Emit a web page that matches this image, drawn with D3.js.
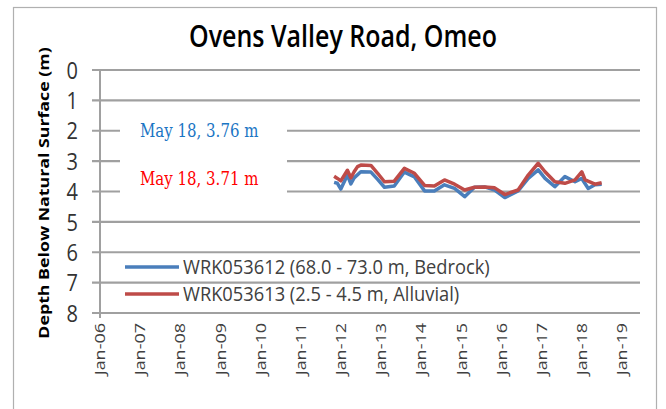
<!DOCTYPE html>
<html>
<head>
<meta charset="utf-8">
<script src="https://cdn.jsdelivr.net/npm/d3@7"></script>
<style>
  body { margin: 0; background: #fff; }
</style>
</head>
<body>
<svg id="chart"></svg>
<script>
// readings (depth below natural surface, m)
var blueDates = ['2011-11','2011-12','2012-01','2012-03','2012-04','2012-05','2012-07','2012-10','2012-12',
  '2013-02','2013-05','2013-08','2013-11','2014-02','2014-05','2014-08','2014-11','2015-02','2015-05',
  '2015-08','2015-11','2016-02','2016-06','2016-09','2016-12','2017-02','2017-05','2017-08','2017-11',
  '2018-01','2018-03','2018-05','2018-07'];
var blueValues = [3.70,3.73,3.92,3.46,3.75,3.55,3.35,3.36,3.60,
  3.86,3.82,3.36,3.52,3.98,3.98,3.78,3.90,4.17,3.86,
  3.85,3.95,4.20,3.98,3.57,3.29,3.57,3.84,3.51,3.68,
  3.57,3.90,3.78,3.76];

var redDates = ['2011-11','2011-12','2012-01','2012-03','2012-04','2012-05','2012-06','2012-07','2012-10','2012-12',
  '2013-02','2013-05','2013-08','2013-11','2014-02','2014-05','2014-08','2014-11','2015-02','2015-05',
  '2015-08','2015-11','2016-02','2016-06','2016-09','2016-12','2017-02','2017-05','2017-08','2017-11',
  '2018-01','2018-02','2018-05','2018-07'];
var redValues = [3.50,3.57,3.65,3.30,3.55,3.35,3.18,3.13,3.14,3.40,
  3.68,3.66,3.24,3.40,3.80,3.82,3.62,3.76,3.95,3.86,
  3.85,3.88,4.10,3.95,3.46,3.07,3.35,3.68,3.73,3.62,
  3.35,3.62,3.76,3.71];

var seriesNames = ['WRK053612 (68.0 - 73.0 m, Bedrock)', 'WRK053613 (2.5 - 4.5 m, Alluvial)'];
var seriesColors = ['#4a7ebb', '#be4b48'];
var yTicks = [0, 1, 2, 3, 4, 5, 6, 7, 8];
var xTickYears = d3.range(2006, 2020);
var notes = ['May 18, 3.76 m', 'May 18, 3.71 m'];
var noteColors = ['#1a75c4', '#ff0000'];

var width = 666, height = 409;
var stretch = 1.2;   // the source picture is a little taller than wide, text looks stretched
var parse = d3.timeParse('%Y-%m');

// place a text at (px,py), stretched vertically, optionally turned
function place(px, py, rot, s) {
    return `translate(${px},${py}) scale(1,${s || stretch})` + (rot ? ` rotate(${rot})` : '');
}

var svg = d3.select('#chart')
    .attr('width', width)
    .attr('height', height)
    .style('font-family', '"Open Sans", sans-serif');

// outer frame
svg.append('rect')
    .attr('x', 13.5).attr('y', 7.5)
    .attr('width', 643).attr('height', 430)
    .attr('fill', 'white')
    .attr('stroke', '#b0b0b0')
    .attr('stroke-width', 1.2);

var x = d3.scaleTime()
    .domain([new Date(2006, 0, 1), new Date(2019, 5, 15)])
    .range([100, 640]);

var y = d3.scaleLinear()
    .domain([0, 8])
    .range([70, 313]);

// horizontal gridlines
svg.append('g')
    .selectAll('line')
    .data(yTicks)
    .join('line')
    .attr('x1', 92).attr('x2', 640)
    .attr('y1', d => y(d)).attr('y2', d => y(d))
    .attr('stroke', '#a0a0a0')
    .attr('stroke-width', 2.2);

// vertical axis line
svg.append('line')
    .attr('x1', 100).attr('x2', 100)
    .attr('y1', y(0)).attr('y2', y(8) + 5)
    .attr('stroke', '#a0a0a0')
    .attr('stroke-width', 2);

// y tick labels
svg.append('g')
    .selectAll('text')
    .data(yTicks)
    .join('text')
    .attr('transform', d => place(78, y(d)))
    .attr('dy', '0.36em')
    .attr('text-anchor', 'end')
    .attr('fill', '#333')
    .style('font-size', '20px')
    .text(d => d);

// x tick labels, rotated
svg.append('g')
    .selectAll('text')
    .data(xTickYears)
    .join('text')
    .attr('transform', d => place(x(new Date(d, 0, 1)), 323, -90))
    .attr('dy', '0.35em')
    .attr('text-anchor', 'end')
    .attr('fill', '#404040')
    .style('font-size', '15px')
    .text(d => 'Jan-' + String(d).slice(2));

// axis title
svg.append('text')
    .attr('transform', place(44, 193, -90))
    .attr('dy', '0.35em')
    .attr('text-anchor', 'middle')
    .attr('fill', '#000')
    .style('font-size', '14.8px')
    .style('font-weight', 'bold')
    .text('Depth Below Natural Surface (m)');

// chart title
svg.append('text')
    .attr('transform', place(343, 47))
    .attr('text-anchor', 'middle')
    .attr('fill', '#000')
    .style('font-size', '25px')
    .style('font-weight', '600')
    .text('Ovens Valley Road, Omeo');

// the two series
var series = [
    blueDates.map((d, i) => ({date: parse(d), value: blueValues[i]})),
    redDates.map((d, i) => ({date: parse(d), value: redValues[i]}))
];
var line = d3.line()
    .x(d => x(d.date))
    .y(d => y(d.value));

svg.append('g')
    .selectAll('path')
    .data(series)
    .join('path')
    .attr('fill', 'none')
    .attr('stroke', (d, i) => seriesColors[i])
    .attr('stroke-width', 3.5)
    .attr('stroke-linejoin', 'round')
    .attr('d', line);

// text box with the latest readings (hides the gridlines behind it)
svg.append('rect')
    .attr('x', 120).attr('y', 110)
    .attr('width', 167).attr('height', 90)
    .attr('fill', 'white');

svg.append('g')
    .selectAll('text')
    .data(notes)
    .join('text')
    .attr('transform', (d, i) => place(140, [137, 185][i]))
    .attr('fill', (d, i) => noteColors[i])
    .style('font-family', '"DejaVu Serif", serif')
    .style('font-size', '15px')
    .text(d => d);

// legend
var legend = svg.append('g')
    .selectAll('g')
    .data(seriesNames)
    .join('g')
    .attr('transform', (d, i) => `translate(125,${267 + i * 27})`);
legend.append('line')
    .attr('x1', 0).attr('x2', 54)
    .attr('stroke', (d, i) => seriesColors[i])
    .attr('stroke-width', 3.5);
legend.append('text')
    .attr('transform', place(58, 0, 0, 1.05))
    .attr('dy', '0.36em')
    .attr('fill', '#404040')
    .style('font-size', '18.3px')
    .text(d => d);
</script>
</body>
</html>
